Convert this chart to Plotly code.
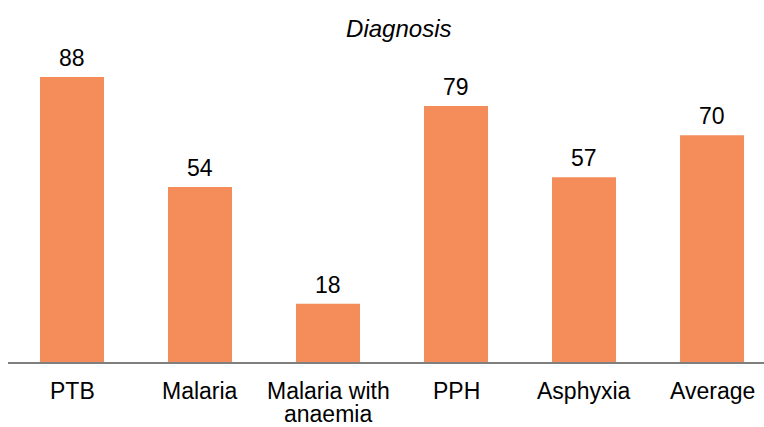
import plotly.graph_objects as go

categories = ["PTB", "Malaria", "Malaria with\nanaemia", "PPH", "Asphyxia", "Average"]
values = [88, 54, 18, 79, 57, 70]

BAR_COLOR = "#F48D5A"
FONT = "Liberation Sans, Arial, sans-serif"

fig = go.Figure(
    go.Bar(
        x=categories,
        y=values,
        width=0.5,
        marker=dict(color=BAR_COLOR, line=dict(width=0)),
        hoverinfo="skip",
    )
)

# value labels above the bars
for cat, val in zip(categories, values):
    fig.add_annotation(
        x=cat, y=val, text=str(val), showarrow=False,
        yanchor="bottom", yshift=4,
        font=dict(family=FONT, size=23, color="#000000"),
    )

# category labels under the axis, tighter line spacing than plotly's ticks
for cat in categories:
    for i, line in enumerate(cat.split("\n")):
        fig.add_annotation(
            x=cat, y=0, text=line, showarrow=False,
            yanchor="middle", yshift=-29 - 23 * i,
            font=dict(family=FONT, size=23, color="#000000"),
        )

fig.update_layout(
    template="none",
    width=764,
    height=427,
    margin=dict(l=8, r=0, t=40, b=65, autoexpand=False),
    plot_bgcolor="white",
    paper_bgcolor="white",
    showlegend=False,
    title=dict(
        text="<i>Diagnosis</i>",
        x=0.522, xanchor="center", y=0.934, yanchor="middle",
        font=dict(family=FONT, size=24, color="#000000"),
    ),
    font=dict(family=FONT, size=23, color="#000000"),
)
fig.update_xaxes(
    range=[-0.5, 5.406], automargin=False,
    showline=True, linecolor="#7f7f7f", linewidth=1.5,
    showgrid=False, ticks="", showticklabels=False,
)
fig.update_yaxes(range=[0, 99.4], visible=False, showgrid=False, automargin=False)

fig.write_html(
    "out.html",
    config={"displayModeBar": False},
    post_script="document.body.style.margin='0';",
)
